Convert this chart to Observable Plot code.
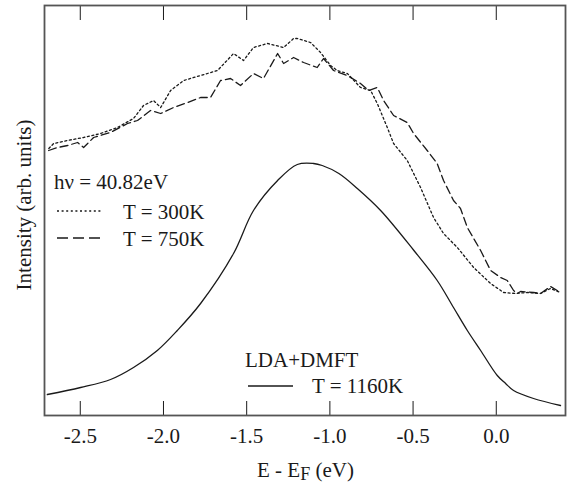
<!DOCTYPE html>
<html><head><meta charset="utf-8">
<script src="https://cdn.jsdelivr.net/npm/d3@7"></script>
<script src="https://cdn.jsdelivr.net/npm/@observablehq/plot@0.6"></script>
<style>body{margin:0;background:#fff}</style>
</head><body><div id="chart"></div>
<script>
// Tick values
const xTicks = [-2.5, -2.0, -1.5, -1.0, -0.5, 0.0];

// T = 300K (dotted), photoemission
const e300 = [-2.689,-2.660,-2.578,-2.480,-2.378,-2.276,-2.180,-2.120,-2.060,-2.017,-1.957,-1.879,-1.777,-1.675,-1.579,-1.519,-1.459,-1.375,-1.278,-1.218,-1.196,-1.116,-1.056,-0.996,-0.956,-0.895,-0.816,-0.755,-0.715,-0.655,-0.617,-0.535,-0.455,-0.377,-0.317,-0.234,-0.136,-0.034,0.044,0.116,0.186,0.266,0.326,0.386];
const i300 = [267,272,275,278,282,288,297,310,315,308,325,335,340,345,362,355,368,372,368,377,377,373,363,350,345,342,328,325,312,288,272,255,228,198,182,168,148,132,123,122,123,122,127,123];

// T = 750K (dashed), photoemission
const e750 = [-2.690,-2.636,-2.576,-2.516,-2.480,-2.420,-2.318,-2.216,-2.156,-2.078,-2.017,-1.939,-1.855,-1.777,-1.717,-1.657,-1.597,-1.537,-1.459,-1.399,-1.314,-1.278,-1.218,-1.158,-1.076,-1.038,-0.978,-0.895,-0.816,-0.767,-0.715,-0.677,-0.617,-0.535,-0.497,-0.415,-0.355,-0.317,-0.257,-0.215,-0.174,-0.094,-0.034,0.026,0.066,0.104,0.126,0.146,0.224,0.266,0.326,0.386];
const i750 = [265,268,270,273,268,278,283,292,295,305,302,308,313,318,318,335,337,330,342,337,362,352,358,353,348,357,345,340,332,325,328,315,300,293,282,265,252,235,215,207,188,165,145,138,135,125,122,124,123,122,129,123];

// T = 1160K (solid), LDA+DMFT
const e1160 = [-2.698,-2.498,-2.318,-2.180,-2.037,-1.917,-1.777,-1.579,-1.459,-1.314,-1.196,-1.098,-1.046,-0.946,-0.835,-0.695,-0.495,-0.355,-0.257,-0.174,-0.094,0.006,0.056,0.104,0.224,0.386];
const i1160 = [21,28,36,48,65,85,112,162,205,235,251,252,250,242,227,205,165,135,108,85,65,40,32,25,17,10];

const toRows = (es, is) => es.map((e, k) => ({e, i: is[k]}));
const d300 = toRows(e300, i300), d750 = toRows(e750, i750), d1160 = toRows(e1160, i1160);

const FONT = "Liberation Serif";
const INK = "#1a1a1a";

function annotations() {
  const g = d3.create("svg:g").attr("fill", INK).attr("font-family", FONT);
  const txt = (x, y, s) => g.append("text").attr("x", x).attr("y", y).attr("font-size", 21).attr("font-family", FONT).attr("text-anchor", "start").text(s);
  const seg = (x1, x2, y, dash) => g.append("line").attr("x1", x1).attr("x2", x2).attr("y1", y).attr("y2", y)
      .attr("stroke", INK).attr("stroke-width", 1.3).attr("stroke-dasharray", dash);
  txt(54, 189, "hν = 40.82eV");
  seg(57, 102, 211, "2,2.6"); txt(123, 219, "T = 300K");
  seg(57, 102, 238, "11,5"); txt(123, 246, "T = 750K");
  txt(245, 367, "LDA+DMFT");
  seg(248, 293, 386, null); txt(312, 393, "T = 1160K");
  // x axis title with subscript
  const xt = g.append("text").attr("x", 257).attr("y", 477).attr("font-size", 21).attr("font-family", FONT).attr("text-anchor", "start");
  xt.append("tspan").text("E - E");
  xt.append("tspan").attr("font-size", 18).attr("dy", 3).text("F");
  xt.append("tspan").attr("dy", -3).text(" (eV)");
  // y axis title
  g.append("text").attr("transform", "translate(31,205) rotate(-90)").attr("text-anchor", "middle")
    .attr("font-size", 21).attr("font-family", FONT).text("Intensity (arb. units)");
  return g.node();
}

const chart = Plot.plot({
  width: 573, height: 484,
  marginLeft: 44, marginRight: 8, marginTop: 5, marginBottom: 69,
  style: "background: #fff; color: #1a1a1a; font-family: 'Liberation Serif', serif;",
  x: {domain: [-2.715, 0.416]},
  y: {domain: [0, 410], axis: null},
  marks: [
    Plot.line(d1160, {x: "e", y: "i", stroke: INK, strokeWidth: 1.3, curve: "catmull-rom"}),
    Plot.line(d750, {x: "e", y: "i", stroke: INK, strokeWidth: 1.3, strokeDasharray: "8,4"}),
    Plot.line(d300, {x: "e", y: "i", stroke: INK, strokeWidth: 1.3, strokeDasharray: "2,2.6"}),
    Plot.axisX({ticks: xTicks, anchor: "bottom", tickSize: -14, tickFormat: () => "", label: null, stroke: INK}),
    Plot.axisX({ticks: xTicks, anchor: "top", tickSize: -14, tickFormat: () => "", label: null, stroke: INK}),
    Plot.axisX({ticks: xTicks, anchor: "bottom", tickSize: 0, tickPadding: 13, tickFormat: d => d.toFixed(1), label: null, fontSize: 21, fill: INK, fontFamily: FONT}),
    Plot.frame({stroke: "#555", strokeWidth: 1.8}),
    annotations
  ]
});
document.getElementById("chart").append(chart);
</script>
</body></html>
